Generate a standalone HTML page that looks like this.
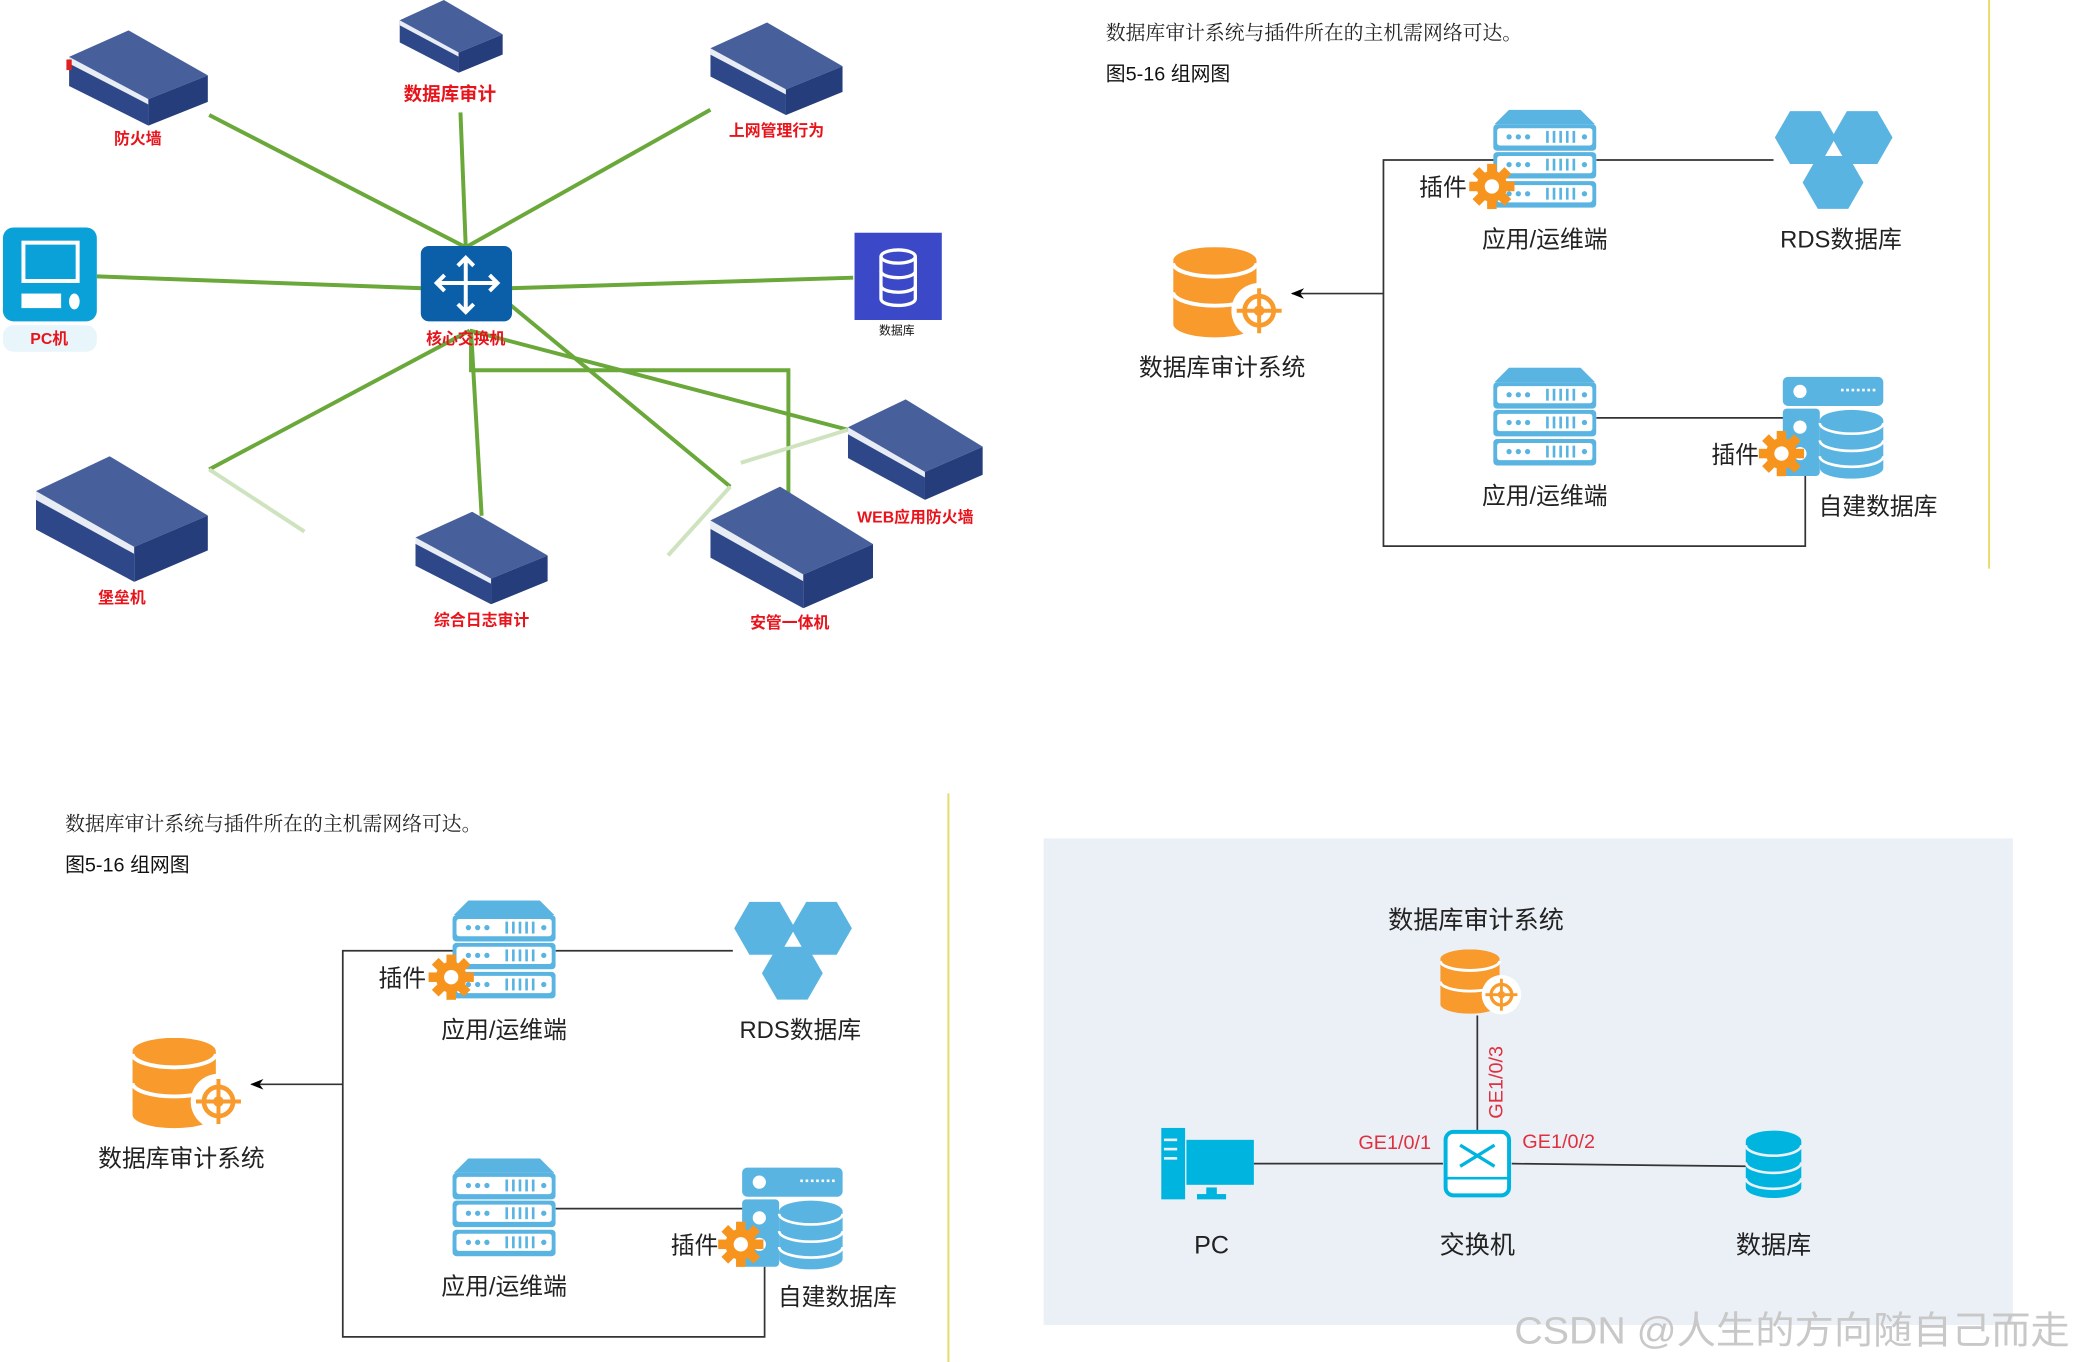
<!DOCTYPE html>
<html><head><meta charset="utf-8"><style>html,body{margin:0;padding:0;background:#fff}svg{display:block}</style></head>
<body>
<svg width="2074" height="1362" viewBox="0 0 1568 1030" xmlns="http://www.w3.org/2000/svg" font-family="Liberation Sans, Noto Sans CJK SC, sans-serif">
<defs>
<symbol id="box" viewBox="0 0 105 72" preserveAspectRatio="none">
<polygon points="0,20 45,0 105,34 60,52" fill="#47609c"/>
<polygon points="0,20 60,52 60,72 0,42" fill="#2d4788"/>
<polygon points="0,20 60,52 60,56 0,25" fill="#e8ecf5"/>
<polygon points="60,52 105,34 105,54 60,72" fill="#263d7c"/>
</symbol>
<symbol id="srv" viewBox="0 0 78 76">
<polygon points="12,0 66,0 77,11 1,11" fill="#5ab4e2"/>
<g id="slab"><rect x="0" y="11" width="78" height="20" rx="3" fill="#5ab4e2"/><rect x="3" y="14" width="72" height="13" rx="2" fill="#fff"/>
<circle cx="12" cy="20.5" r="2" fill="#5ab4e2"/><circle cx="19" cy="20.5" r="2" fill="#5ab4e2"/><circle cx="26" cy="20.5" r="2" fill="#5ab4e2"/>
<rect x="40" y="16" width="2" height="9" fill="#5ab4e2"/><rect x="45" y="16" width="2" height="9" fill="#5ab4e2"/><rect x="50" y="16" width="2" height="9" fill="#5ab4e2"/><rect x="55" y="16" width="2" height="9" fill="#5ab4e2"/><rect x="60" y="16" width="2" height="9" fill="#5ab4e2"/>
<circle cx="69" cy="20.5" r="2" fill="#5ab4e2"/></g>
<use href="#slab" y="21"/><use href="#slab" y="43"/>
</symbol>
<symbol id="gear" viewBox="-20 -20 40 40">
<g fill="#f7941d"><circle r="13"/>
<rect x="-4" y="-19" width="8" height="38"/><rect x="-4" y="-19" width="8" height="38" transform="rotate(45)"/><rect x="-4" y="-19" width="8" height="38" transform="rotate(90)"/><rect x="-4" y="-19" width="8" height="38" transform="rotate(135)"/></g>
<circle r="6" fill="#fff"/>
</symbol>
<symbol id="odb" viewBox="0 0 90 70">
<path d="M0,10 A31,10 0 0 1 63,10 L63,58 A31,10 0 0 1 0,58 Z" fill="#f89a2c"/>
<path d="M0,12 A31,10 0 0 0 63,12" fill="none" stroke="#fff" stroke-width="3"/>
<path d="M0,34 A31,10 0 0 0 63,34" fill="none" stroke="#fff" stroke-width="3"/>
<circle cx="65" cy="48" r="21" fill="#fff"/>
<circle cx="65" cy="48" r="11" fill="none" stroke="#f89a2c" stroke-width="3.5"/>
<circle cx="65" cy="48" r="4" fill="#f89a2c"/>
<path d="M65,31 V65 M48,48 H82" stroke="#f89a2c" stroke-width="3"/>
</symbol>
<marker id="arr" markerWidth="10" markerHeight="10" refX="9" refY="5" orient="auto" markerUnits="userSpaceOnUse"><path d="M0,1 L10,5 L0,9 L3,5 Z" fill="#000"/></marker>
<g id="arch">
<text x="836" y="30" font-family="Liberation Serif, Noto Serif CJK SC, serif" font-size="15" fill="#222">数据库审计系统与插件所在的主机需网络可达。</text>
<text x="836" y="61" font-size="15" fill="#111">图5-16  组网图</text>
<g stroke="#333" stroke-width="1.3" fill="none">
<path d="M1130,121 H1046 V413 H1365 V360"/>
<path d="M1207,121 H1341"/>
<path d="M1207,316 H1350"/>
<path d="M1046,222 H977" marker-end="url(#arr)"/>
</g>
<use href="#srv" x="1129" y="83" width="78" height="76"/>
<use href="#srv" x="1129" y="278" width="78" height="76"/>
<use href="#gear" x="1110" y="123" width="36" height="36"/>
<text x="1073" y="148" font-size="18" fill="#222">插件</text>
<text x="1168" y="187" font-size="18" fill="#222" text-anchor="middle">应用/运维端</text>
<text x="1168" y="381" font-size="18" fill="#222" text-anchor="middle">应用/运维端</text>
<g fill="#5ab4e2">
<polygon points="1342,104 1353.5,84 1376.5,84 1388,104 1376.5,124 1353.5,124"/>
<polygon points="1385,104 1396.5,84 1419.5,84 1431,104 1419.5,124 1396.5,124"/>
<polygon points="1363,138 1374.5,118 1397.5,118 1409,138 1397.5,158 1374.5,158"/>
</g>
<text x="1392" y="187" font-size="18" fill="#222" text-anchor="middle">RDS数据库</text>
<use href="#odb" x="887" y="187" width="90" height="70"/>
<text x="924" y="284" font-size="18" fill="#222" text-anchor="middle">数据库审计系统</text>
<rect x="1348" y="285" width="76" height="22" rx="4" fill="#5ab4e2"/>
<rect x="1348" y="309" width="28" height="51" rx="3" fill="#5ab4e2"/>
<circle cx="1361" cy="296" r="5" fill="#fff"/><circle cx="1361" cy="323" r="5" fill="#fff"/><circle cx="1361" cy="343" r="5" fill="#fff"/>
<path d="M1392,295 h26" stroke="#fff" stroke-width="2" stroke-dasharray="2,2"/>
<path d="M1376,318 A24,8 0 0 1 1424,318 V354 A24,8 0 0 1 1376,354 Z" fill="#5ab4e2"/>
<path d="M1376,320 A24,8 0 0 0 1424,320 M1376,333 A24,8 0 0 0 1424,333 M1376,345 A24,8 0 0 0 1424,345" fill="none" stroke="#fff" stroke-width="2"/>
<use href="#gear" x="1329" y="325" width="36" height="36"/>
<text x="1294" y="350" font-size="18" fill="#222">插件</text>
<text x="1420" y="389" font-size="18" fill="#222" text-anchor="middle">自建数据库</text>
</g>
</defs>

<!-- top-left network -->
<g stroke="#6aa83a" stroke-width="3" fill="none">
<path d="M158,87 L352,187"/><path d="M348,85 L352,187"/><path d="M537,83 L352,187"/>
<path d="M73,209 L320,218"/><path d="M385,218 L645,210"/>
<path d="M355,250 L158,355"/><path d="M356,250 L364,390"/>
<path d="M385,230 L552,368"/><path d="M356,250 V280 H596 V400"/><path d="M355,250 L641,325"/>
</g>
<g stroke="#cfe3bf" stroke-width="3" fill="none"><path d="M158,355 L230,402"/><path d="M552,368 L505,420"/><path d="M641,325 L560,350"/></g>
<use href="#box" x="52" y="23" width="105" height="72"/>
<rect x="50" y="45" width="4" height="8" fill="#e02020"/>
<use href="#box" x="302" y="0" width="78" height="55"/>
<use href="#box" x="537" y="17" width="100" height="70"/>
<use href="#box" x="27" y="345" width="130" height="95"/>
<use href="#box" x="314" y="387" width="100" height="70"/>
<use href="#box" x="537" y="368" width="123" height="92"/>
<use href="#box" x="641" y="302" width="102" height="76"/>
<rect x="2" y="172" width="71" height="71" rx="8" fill="#0aa0d8"/>
<rect x="16" y="182" width="44" height="32" fill="#fff"/><rect x="19" y="185" width="38" height="26" fill="#0aa0d8"/>
<rect x="16" y="222" width="30" height="11" fill="#fff"/><ellipse cx="56" cy="228" rx="4" ry="6" fill="#fff"/>
<rect x="2" y="246" width="71" height="20" rx="8" fill="#d8eef8" opacity="0.6"/>
<rect x="646" y="176" width="66" height="66" fill="#3b48c8"/>
<g fill="none" stroke="#fff" stroke-width="2.5"><path d="M666,194 A13,5 0 0 1 692,194 V226 A13,5 0 0 1 666,226 Z"/><path d="M666,194 A13,5 0 0 0 692,194 M666,205 A13,5 0 0 0 692,205 M666,216 A13,5 0 0 0 692,216"/></g>
<rect x="318" y="186" width="69" height="57" rx="6" fill="#0b5fa8"/>
<g stroke="#fff" stroke-width="3" fill="none"><path d="M352,195 V236 M330,214 H376 M346,201 L352,195 L358,201 M346,230 L352,236 L358,230 M336,208 L330,214 L336,220 M370,208 L376,214 L370,220"/></g>
<g font-size="12" font-weight="bold" fill="#e8141b" text-anchor="middle">
<text x="104" y="109">防火墙</text><text x="340" y="76" font-size="14">数据库审计</text><text x="587" y="103">上网管理行为</text>
<text x="37" y="260">PC机</text><text x="352" y="260">核心交换机</text><text x="92" y="456">堡垒机</text>
<text x="364" y="473">综合日志审计</text><text x="597" y="475">安管一体机</text><text x="692" y="395">WEB应用防火墙</text>
</g>
<text x="678" y="253" font-size="9" text-anchor="middle" fill="#111">数据库</text>

<use href="#arch"/>
<line x1="1504" y1="0" x2="1504" y2="430" stroke="#e6dc6a" stroke-width="1.5"/>
<use href="#arch" transform="translate(-787,598)"/>
<line x1="717" y1="600" x2="717" y2="1030" stroke="#e6dc6a" stroke-width="1.5"/>

<!-- bottom-right -->
<rect x="789" y="634" width="733" height="368" fill="#ebf0f7"/>
<text x="1116" y="702" font-size="19" fill="#222" text-anchor="middle">数据库审计系统</text>
<use href="#odb" x="1089" y="718" width="64" height="50"/>
<g stroke="#333" stroke-width="1.3"><path d="M1117,768 V855"/><path d="M948,880 H1091"/><path d="M1143,880 L1320,882"/></g>
<text transform="translate(1136,846) rotate(-90)" font-size="15" fill="#e03040">GE1/0/3</text>
<text x="1027" y="869" font-size="15" fill="#e03040">GE1/0/1</text>
<text x="1151" y="868" font-size="15" fill="#e03040">GE1/0/2</text>
<rect x="1093" y="856" width="48" height="48" rx="6" fill="#fff" stroke="#00b4e0" stroke-width="3"/>
<path d="M1093,891 H1141" stroke="#00b4e0" stroke-width="2"/>
<path d="M1104,866 L1130,882 M1104,882 L1130,866" stroke="#00b4e0" stroke-width="2.5"/>
<g fill="#00b4e0"><rect x="878" y="853" width="18" height="54"/><rect x="897" y="862" width="51" height="34"/><rect x="912" y="898" width="8" height="6"/><rect x="905" y="903" width="22" height="4"/></g>
<g fill="#ebf0f7"><rect x="880" y="861" width="10" height="2"/><rect x="880" y="868" width="10" height="2"/><rect x="880" y="875" width="10" height="2"/></g>
<path d="M1320,863 A21,8 0 0 1 1362,863 V898 A21,8 0 0 1 1320,898 Z" fill="#00b4e0"/>
<path d="M1320,866 A21,8 0 0 0 1362,866 M1320,879 A21,8 0 0 0 1362,879 M1320,891 A21,8 0 0 0 1362,891" fill="none" stroke="#ebf0f7" stroke-width="2"/>
<g font-size="19" fill="#222" text-anchor="middle"><text x="916" y="948">PC</text><text x="1117" y="948">交换机</text><text x="1341" y="948">数据库</text></g>
<text x="1145" y="1016" font-size="29" fill="#c8c8c8" textLength="420" lengthAdjust="spacingAndGlyphs">CSDN @人生的方向随自己而走</text>
</svg>
</body></html>
